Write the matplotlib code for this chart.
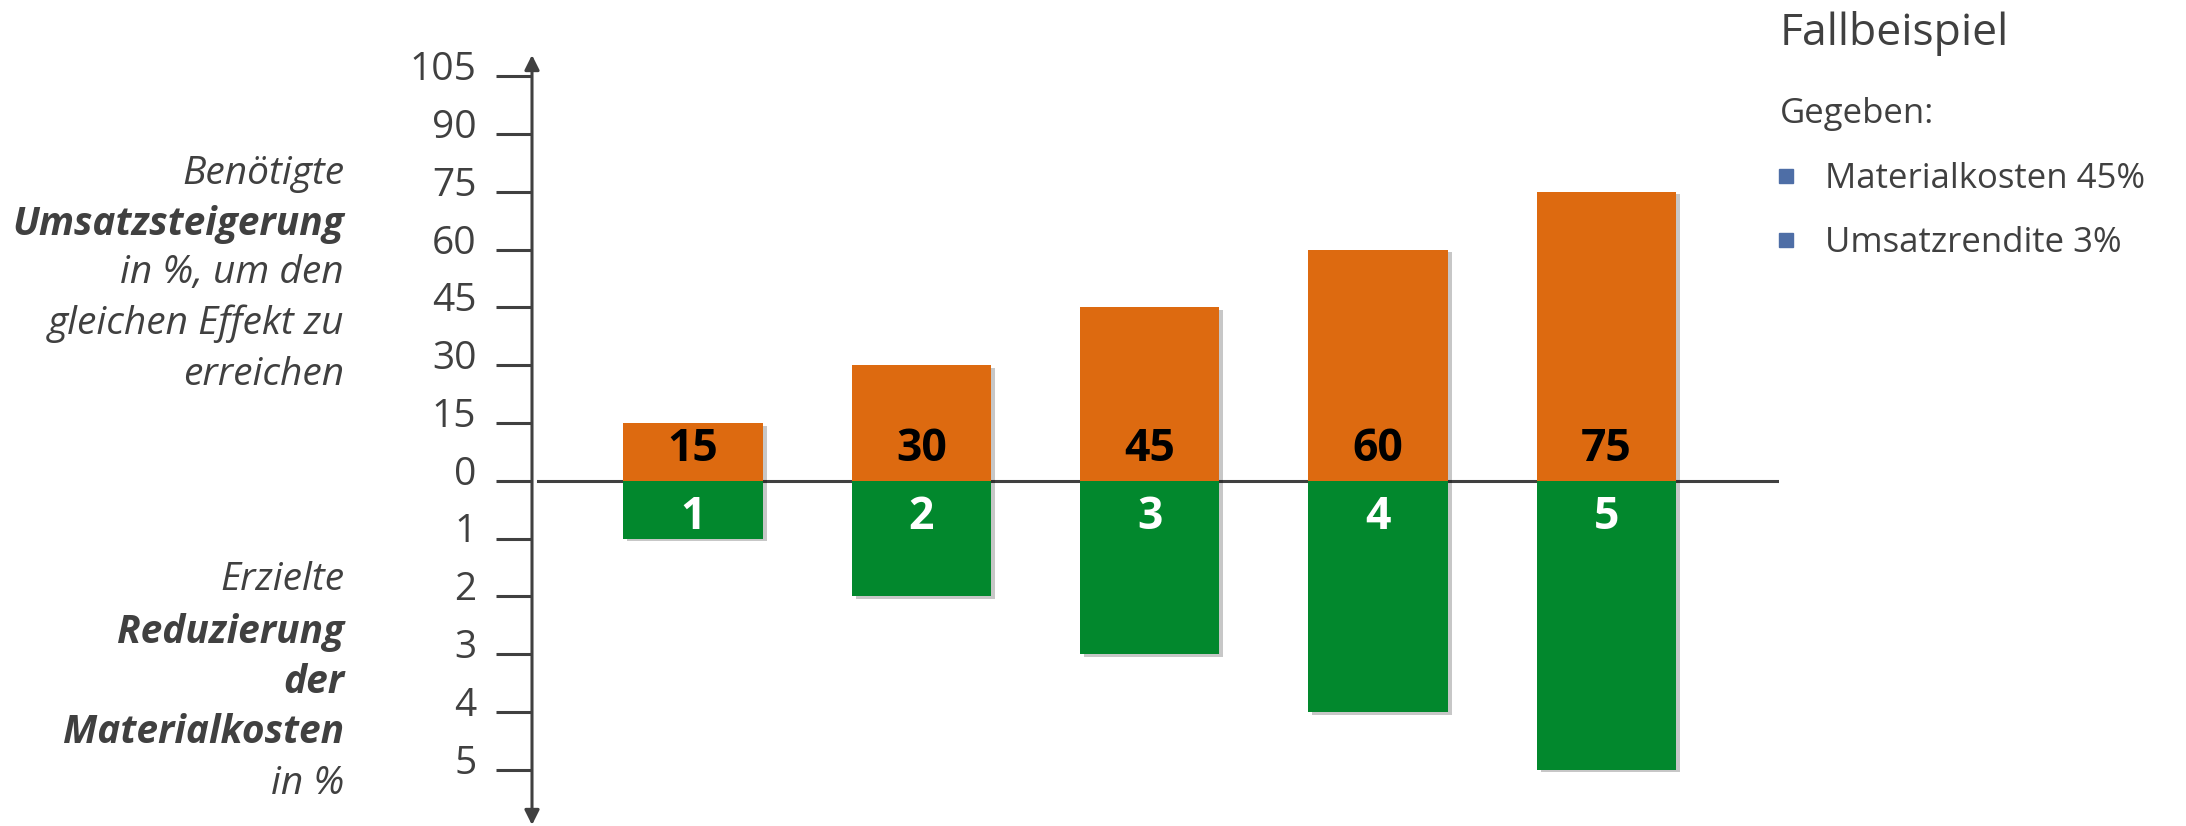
import matplotlib
matplotlib.use("Agg")
import matplotlib.pyplot as plt
import matplotlib.patheffects as pe
import matplotlib.transforms as mtransforms
from matplotlib.patches import Rectangle

# Daten
schritte = [1, 2, 3, 4, 5]
umsatz_steigerung = [15, 30, 45, 60, 75]      # Prozent, oben
material_reduzierung = [1, 2, 3, 4, 5]         # Prozent, unten
ticks_oben = [0, 15, 30, 45, 60, 75, 90, 105]
ticks_unten = [1, 2, 3, 4, 5]

text_oben = [("Benötigte", "italic", "normal"),
             ("Umsatzsteigerung", "italic", "bold"),
             ("in %, um den", "italic", "normal"),
             ("gleichen Effekt zu", "italic", "normal"),
             ("erreichen", "italic", "normal")]
text_unten = [("Erzielte", "italic", "normal"),
              ("Reduzierung", "italic", "bold"),
              ("der", "italic", "bold"),
              ("Materialkosten", "italic", "bold"),
              ("in %", "italic", "normal")]
gegeben = ["Materialkosten 45%", "Umsatzrendite 3%"]

W, H = 2186, 826
grau = "#404040"
orange = "#DD6A10"
gruen = "#02882D"
blau = "#4E6EA6"

plt.rcParams['font.family'] = ['Open Sans', 'DejaVu Sans']

fig = plt.figure(figsize=(W / 100, H / 100), dpi=100)

def fx(px):
    return px / W

def fy(py):
    return 1 - py / H

# Achsenbereich in Pixeln
links, rechts, oben, unten = 532, 1779, 55, 825
rect = [fx(links), fy(unten), fx(rechts) - fx(links), fy(oben) - fy(unten)]
ax = fig.add_axes(rect)
ax2 = fig.add_axes(rect)
ax2.patch.set_visible(False)

px_pro_einheit = 57.8
null_px = 480.7
y_top = (null_px - oben) / px_pro_einheit
y_bot = (unten - null_px) / px_pro_einheit
ax.set_ylim(-y_bot * 15, y_top * 15)
ax2.set_ylim(y_bot, -y_top)

x_start, x_end = 0.295, 5.757
for a in (ax, ax2):
    a.set_xlim(x_start, x_end)
    a.set_xticks([])
    for s in a.spines.values():
        s.set_visible(False)
    a.tick_params(axis='y', direction='out', length=26, width=2.2,
                  color=grau, pad=14, labelsize=28, labelcolor=grau)

ax.set_yticks(ticks_oben, [str(t) for t in ticks_oben], va='baseline')
ax2.set_yticks(ticks_unten, [str(t) for t in ticks_unten], va='baseline')
versatz = mtransforms.ScaledTranslation(0, -0.04, fig.dpi_scale_trans)
for a in (ax, ax2):
    for lbl in a.get_yticklabels():
        lbl.set_transform(lbl.get_transform() + versatz)

# Nulllinie
ax.axhline(0, xmin=0.005, xmax=1, color=grau, lw=2.2, zorder=1)

schatten = [pe.SimplePatchShadow(offset=(3, -2), shadow_rgbFace='k', alpha=0.22), pe.Normal()]
breite = 0.61
b1 = ax.bar(schritte, umsatz_steigerung, width=breite, color=orange, zorder=2)
b2 = ax2.bar(schritte, material_reduzierung, width=breite, color=gruen, zorder=2)
for p in list(b1) + list(b2):
    p.set_path_effects(schatten)

for x, v in zip(schritte, umsatz_steigerung):
    ax.annotate(str(v), xy=(x, 0), xytext=(0, 14), textcoords='offset points',
                ha='center', va='baseline', fontsize=32, fontweight='bold', color='black', zorder=3)
for x, v in zip(schritte, material_reduzierung):
    ax2.annotate(str(v), xy=(x, 0), xytext=(0, -35), textcoords='offset points',
                 ha='center', va='baseline', fontsize=32, fontweight='bold', color='white', zorder=3)

# Pfeil-Achse
ax.annotate('', xy=(0, 1), xytext=(0, 0), xycoords='axes fraction',
            arrowprops=dict(arrowstyle='<|-|>', color=grau, lw=2.2,
                            mutation_scale=22, shrinkA=0, shrinkB=0))

# Beschriftungen links
for (t, st, wt), by in zip(text_oben, [184, 235, 283, 334, 385]):
    fig.text(fx(344), fy(by), t, ha='right', va='baseline', fontsize=28,
             style=st, fontweight=wt, color=grau)
for (t, st, wt), by in zip(text_unten, [590, 643, 693, 743, 794]):
    fig.text(fx(344), fy(by), t, ha='right', va='baseline', fontsize=28,
             style=st, fontweight=wt, color=grau)

# Fallbeispiel rechts
fig.text(fx(1780), fy(45), "Fallbeispiel", ha='left', va='baseline', fontsize=32, color=grau)
fig.text(fx(1780), fy(123), "Gegeben:", ha='left', va='baseline', fontsize=25, color=grau)
for t, by in zip(gegeben, [188, 252]):
    fig.text(fx(1825), fy(by), t, ha='left', va='baseline', fontsize=25, color=grau)
    fig.patches.append(Rectangle((fx(1779), fy(by - 5)), 14 / W, 14 / H,
                                 transform=fig.transFigure, color=blau))

fig.savefig("out.png", dpi=100)
